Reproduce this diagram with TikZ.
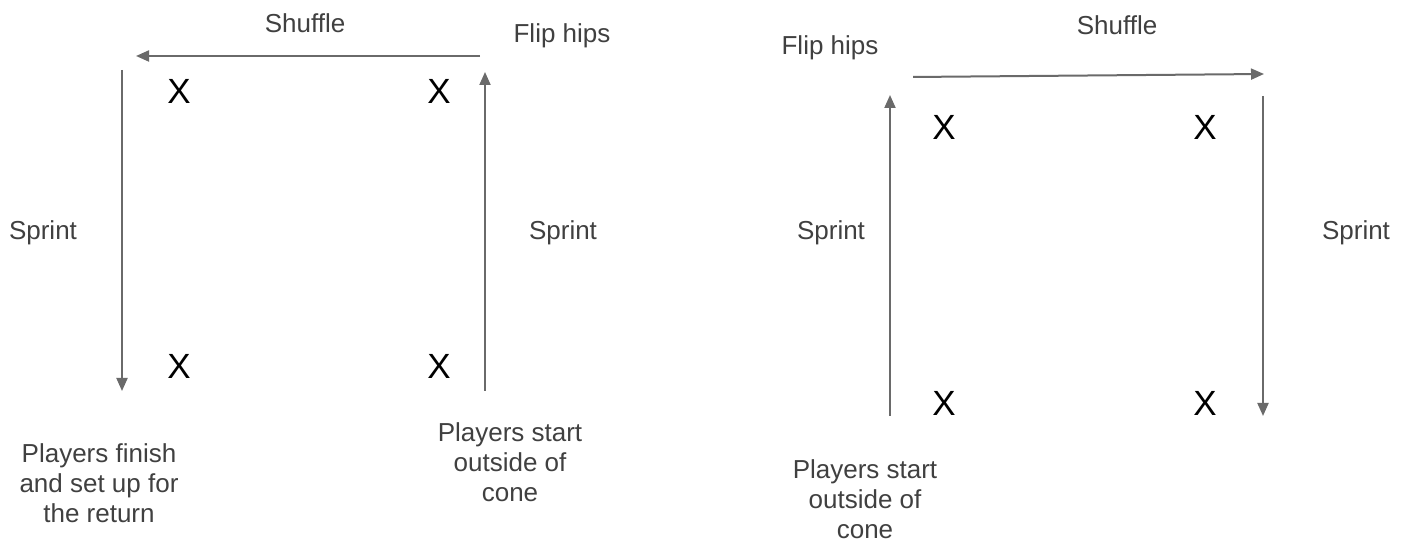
\documentclass[tikz,border=0pt]{standalone}
\usepackage{fontspec}
\setmainfont{Liberation Sans}
\usetikzlibrary{arrows.meta}
\definecolor{linegray}{HTML}{6A6A6A}
\definecolor{textgray}{HTML}{404040}
\tikzset{
  run/.style={draw=linegray, line width=1pt, -{Triangle[length=6.5pt,width=5.5pt]}},
  cone/.style={inner sep=0pt, text=black, font=\fontsize{17.5}{20}\selectfont},
  lbl/.style={inner sep=0pt, text=textgray, font=\fontsize{13}{15}\selectfont, align=center},
}
\begin{document}
\begin{tikzpicture}[x=0.5pt, y=-0.5pt]
\useasboundingbox (0,0) rectangle (1407,544);

% ---- first drill ----
\node[cone] (a1) at (179,91) {X};
\node[cone] (a2) at (439,91) {X};
\node[cone] (a3) at (179,366) {X};
\node[cone] (a4) at (439,366) {X};

\coordinate (aUpStart) at (485,391);
\coordinate (aUpEnd) at (485,72);
\coordinate (aShStart) at (480,56);
\coordinate (aShEnd) at (136,56);
\coordinate (aDnStart) at (122,70);
\coordinate (aDnEnd) at (122,391);

\draw[run] (aUpStart) -- (aUpEnd);
\draw[run] (aShStart) -- (aShEnd);
\draw[run] (aDnStart) -- (aDnEnd);

\node[lbl] (aShuffle) at (305,23) {Shuffle};
\node[lbl] (aFlip) at (562,36) {Flip hips};
\node[lbl] (aSprintL) at (43,233) {Sprint};
\node[lbl] (aSprintR) at (563,233) {Sprint};
\node[lbl] (aFinish) at (99,483) {Players finish\\and set up for\\the return};
\node[lbl] (aStart) at (510,462) {Players start\\outside of\\cone};

% ---- second drill ----
\node[cone] (b1) at (944,127) {X};
\node[cone] (b2) at (1205,127) {X};
\node[cone] (b3) at (944,403) {X};
\node[cone] (b4) at (1205,403) {X};

\coordinate (bUpStart) at (890,416);
\coordinate (bUpEnd) at (890,95);
\coordinate (bShStart) at (913,77);
\coordinate (bShEnd) at (1264,74);
\coordinate (bDnStart) at (1263,96);
\coordinate (bDnEnd) at (1263,416);

\draw[run] (bUpStart) -- (bUpEnd);
\draw[run] (bShStart) -- (bShEnd);
\draw[run] (bDnStart) -- (bDnEnd);

\node[lbl] (bShuffle) at (1117,25) {Shuffle};
\node[lbl] (bFlip) at (830,48) {Flip hips};
\node[lbl] (bSprintL) at (831,233) {Sprint};
\node[lbl] (bSprintR) at (1356,233) {Sprint};
\node[lbl] (bStart) at (865,499) {Players start\\outside of\\cone};
\end{tikzpicture}
\end{document}
